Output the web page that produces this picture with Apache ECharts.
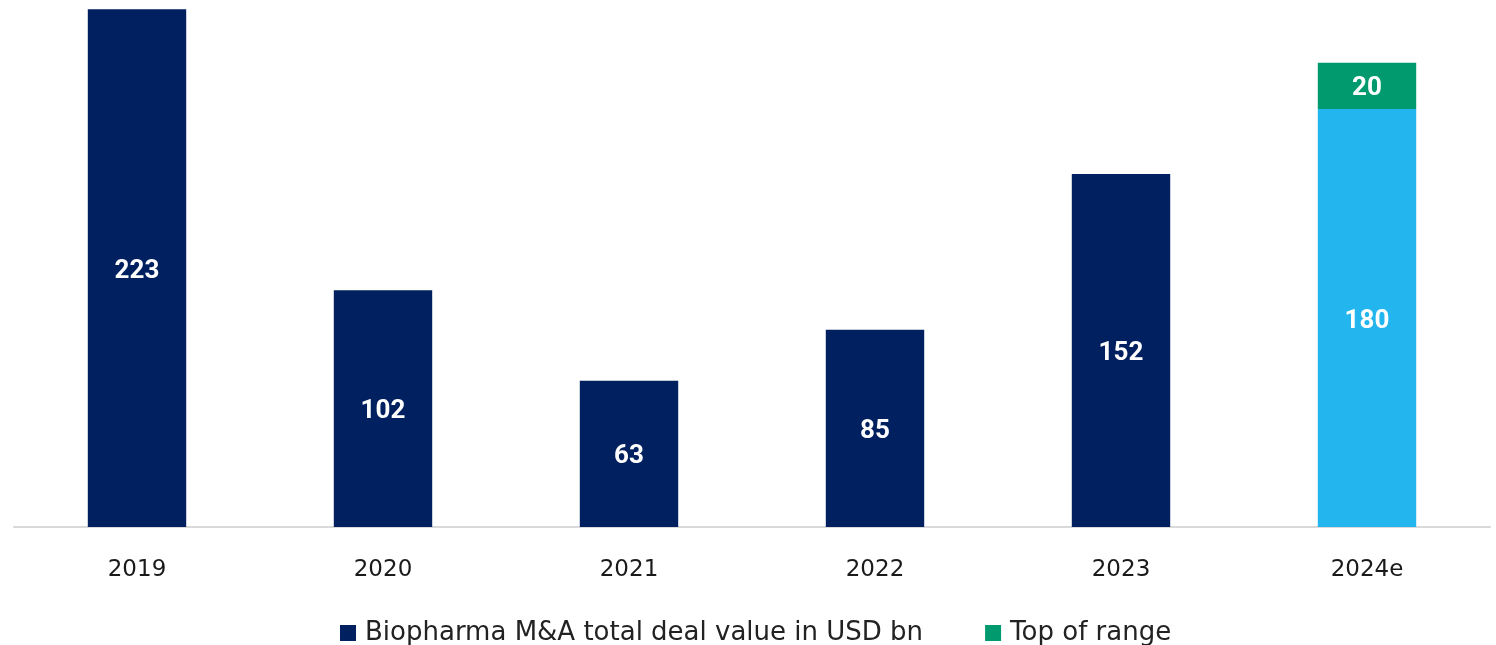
<!DOCTYPE html>
<html><head><meta charset="utf-8">
<script src="https://cdn.jsdelivr.net/npm/echarts@6/dist/echarts.min.js"></script>
<style>html,body{margin:0;padding:0;background:#fff}#c{width:1496px;height:645px}</style>
</head><body><div id="c"></div>
<script>
const categories = ['2019', '2020', '2021', '2022', '2023', '2024e'];
const dealValues = [223, 102, 63, 85, 152, 180];
const topOfRange = [null, null, null, null, null, 20];
const seriesNames = ['Biopharma M&A total deal value in USD bn', 'Top of range'];
const NAVY = '#002060', LIGHT = '#22B5EE', GREEN = '#009A6E';

const chart = echarts.init(document.getElementById('c'));
const labelStyle = {show: true, position: 'inside', offset: [0, 3], color: '#fff', fontSize: 26, fontWeight: 'bold', fontFamily: 'Roboto'};
chart.setOption({
  animation: false,
  grid: {left: 14, right: 6, top: 0, bottom: 118, containLabel: false},
  legend: {
    bottom: -6, left: 335, itemGap: 62, itemWidth: 16, itemHeight: 16,
    icon: 'rect',
    textStyle: {fontSize: 26, color: '#222', fontFamily: 'DejaVu Sans', padding: [0, 0, 0, 4]},
    data: seriesNames
  },
  xAxis: {
    type: 'category', data: categories,
    axisLine: {lineStyle: {color: '#d9d9d9', width: 2}},
    axisTick: {show: false},
    axisLabel: {fontSize: 23, color: '#1a1a1a', margin: 32, fontFamily: 'DejaVu Sans'}
  },
  yAxis: {type: 'value', min: 0, max: 227, show: false, splitLine: {show: false}},
  series: [
    {
      name: seriesNames[0], type: 'bar', stack: 's', barWidth: '40%',
      itemStyle: {color: NAVY},
      label: labelStyle,
      data: dealValues.map((v, i) => i === dealValues.length - 1 ? {value: v, itemStyle: {color: LIGHT}} : v)
    },
    {
      name: seriesNames[1], type: 'bar', stack: 's', barWidth: '40%',
      itemStyle: {color: GREEN},
      label: labelStyle,
      data: topOfRange
    }
  ]
});
</script></body></html>
